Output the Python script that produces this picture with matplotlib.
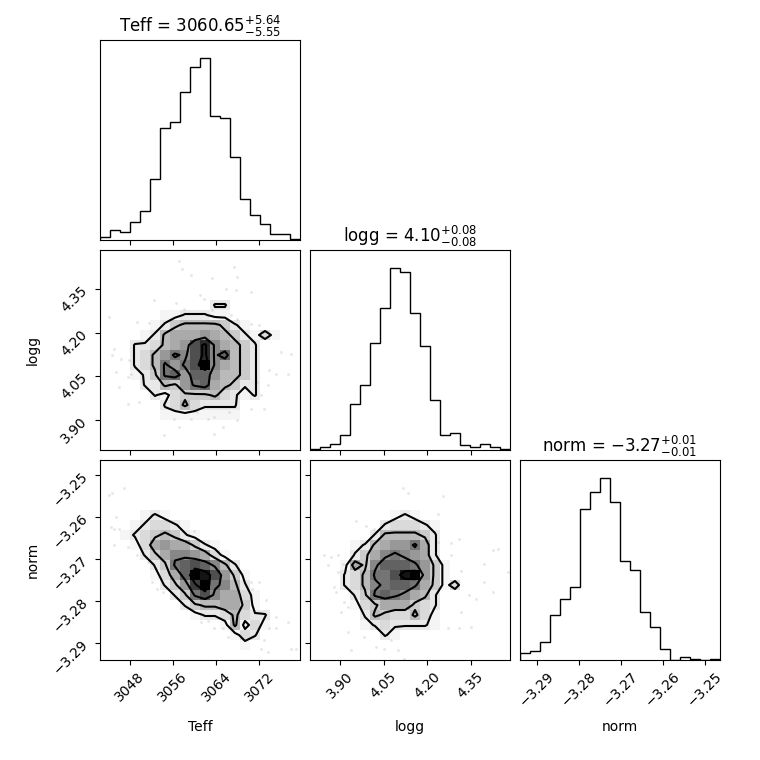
import numpy as np
import matplotlib
matplotlib.use("Agg")
import matplotlib.pyplot as plt
from matplotlib.colors import LinearSegmentedColormap, PowerNorm

labels = ["Teff", "logg", "norm"]
ranges = [(3042.5, 3079.5), (3.797, 4.485), (-3.2940, -3.2464)]
medians = ["3060.65", "4.10", "-3.27"]
err_lo = ["5.55", "0.08", "0.01"]
err_hi = ["5.64", "0.08", "0.01"]
ticks = [[3048, 3056, 3064, 3072],
         [3.90, 4.05, 4.20, 4.35],
         [-3.29, -3.28, -3.27, -3.26, -3.25]]

# 1d histograms, 20 bins each
hist_teff = [8, 30, 25, 53, 87, 183, 335, 351, 441, 516,
             543, 369, 363, 249, 123, 75, 48, 18, 18, 4]
hist_logg = [2, 10, 17, 44, 137, 194, 320, 425, 545, 533,
             410, 311, 149, 44, 51, 16, 9, 17, 10, 2]
hist_norm = [22, 28, 55, 135, 182, 218, 452, 504, 545, 474,
             297, 269, 145, 100, 34, 0, 8, 3, 0, 4]

# 2d histograms, 20x20, hex digit per bin (f = densest), top row first
dens_teff_logg = [
    "00000000000000000000",
    "00000000000000000000",
    "00000000000000000000",
    "00000000000000000000",
    "00000000000000000000",
    "00000000000220000000",
    "00000011222110000000",
    "00000124555542100000",
    "00001256667654213100",
    "000223567bd865420000",
    "000235798bd8a5420000",
    "000235979bf865420000",
    "0001249a7aa755420000",
    "0000225479a654220000",
    "00000213444532120000",
    "00000023532222000000",
    "00000011111111000000",
    "00000000000000000000",
    "00000000000000000000",
    "00000000000000000000",
]
dens_teff_norm = [
    "00000000000000000000",
    "00000000000000000000",
    "00000000000000000000",
    "00000000000000000000",
    "00000000000000000000",
    "00001210000000000000",
    "00012332100000000000",
    "00123454210000000000",
    "00013676642100000000",
    "00002468876310000000",
    "00000249aba852000000",
    "00000136afeb74100000",
    "000000247cf985200000",
    "0000000249b866310000",
    "00000000245566410000",
    "00000000012235322000",
    "00000000000015131000",
    "00000000000001320000",
    "00000000000000100000",
    "00000000000000000000",
]
dens_logg_norm = [
    "00000000000000000000",
    "00000000000000000000",
    "00000000000000000000",
    "00000000000000000000",
    "00000000000000000000",
    "00000000121000000000",
    "00000002333210000000",
    "00000025555420000000",
    "00001256779620000000",
    "00002468987620000000",
    "0001648aaa9741000000",
    "00023599bef741000000",
    "00023589aa9641300000",
    "0000249a986520000000",
    "00001346664320000000",
    "00000254335310000000",
    "00000123222210000000",
    "00000002100000000000",
    "00000000000000000000",
    "00000000000000000000",
]

# scattered samples outside the contours
pts_teff_a = [3057.1, 3057.6, 3059.3, 3063.3, 3067.3, 3067.9, 3065.8, 3067.6, 3070.4,
              3061.0, 3061.8, 3052.5, 3056.5, 3058.1, 3063.3, 3066.7, 3067.9, 3044.2,
              3049.4, 3051.6, 3070.4, 3072.0, 3076.0, 3077.8, 3045.1, 3044.8, 3046.4,
              3047.9, 3045.4, 3047.6, 3048.2, 3046.0, 3050.4, 3073.8, 3075.0, 3077.2,
              3073.5, 3071.6, 3072.3, 3072.9, 3070.4, 3047.6, 3049.7, 3054.4, 3057.1,
              3056.2, 3059.3, 3060.5, 3062.4, 3063.6, 3065.2, 3066.4, 3067.9, 3063.6]
pts_logg_a = [4.446, 4.421, 4.398, 4.387, 4.427, 4.392, 4.352, 4.346, 4.341,
              4.329, 4.318, 4.312, 4.301, 4.283, 4.278, 4.260, 4.249, 4.255,
              4.237, 4.235, 4.232, 4.226, 4.134, 4.128, 4.146, 4.123, 4.111,
              4.106, 4.065, 4.048, 4.060, 4.014, 4.042, 4.071, 4.060, 4.060,
              4.020, 4.031, 3.985, 3.939, 3.939, 3.956, 3.962, 3.847, 3.876,
              3.905, 3.905, 3.928, 3.905, 3.911, 3.876, 3.928, 3.899, 3.853]

pts_teff_b = [3044.2, 3044.8, 3047.0, 3045.4, 3044.5, 3045.1, 3046.0, 3045.0, 3047.6,
              3049.4, 3051.3, 3052.2, 3053.1, 3054.1, 3055.3, 3059.9, 3070.4, 3072.0,
              3070.7, 3073.2, 3075.0, 3073.8, 3075.0, 3077.2, 3072.9, 3073.5, 3072.3,
              3077.8, 3078.7, 3061.2, 3062.4, 3063.6, 3065.2, 3066.1, 3061.8]
pts_norm_b = [-3.2548, -3.2542, -3.2530, -3.2600, -3.2624, -3.2628, -3.2629, -3.2666,
              -3.2671, -3.2691, -3.2707, -3.2754, -3.2770, -3.2778, -3.2762, -3.2632,
              -3.2754, -3.2754, -3.2770, -3.2798, -3.2838, -3.2865, -3.2865, -3.2850,
              -3.2893, -3.2921, -3.2913, -3.2913, -3.2913, -3.2850, -3.2846, -3.2865,
              -3.2865, -3.2885, -3.2834]

pts_logg_c = [4.116, 4.133, 4.254, 4.236, 3.955, 3.990, 4.018, 4.236, 4.282, 4.311,
              4.426, 4.443, 3.846, 3.869, 3.892, 3.858, 3.909, 3.892, 3.881, 3.886,
              3.915, 3.927, 3.904, 4.282, 4.317, 4.345, 4.368, 4.397, 4.426, 4.397,
              4.477, 4.317, 4.311, 4.271, 4.351, 3.927, 3.984, 4.024, 4.053, 4.076,
              4.099, 4.122, 3.938]
pts_norm_c = [-3.2530, -3.2542, -3.2550, -3.2592, -3.2608, -3.2620, -3.2628, -3.2658,
              -3.2661, -3.2653, -3.2679, -3.2675, -3.2691, -3.2695, -3.2691, -3.2715,
              -3.2711, -3.2731, -3.2766, -3.2778, -3.2802, -3.2814, -3.2826, -3.2691,
              -3.2727, -3.2786, -3.2794, -3.2754, -3.2778, -3.2711, -3.2731, -3.2826,
              -3.2865, -3.2865, -3.2861, -3.2873, -3.2885, -3.2909, -3.2913, -3.2893,
              -3.2917, -3.2937, -3.2917]

level_frac = [0.12, 0.30, 0.57, 0.83]

hists = [hist_teff, hist_logg, hist_norm]
pairs = {
    (1, 0): (dens_teff_logg, pts_teff_a, pts_logg_a),
    (2, 0): (dens_teff_norm, pts_teff_b, pts_norm_b),
    (2, 1): (dens_logg_norm, pts_logg_c, pts_norm_c),
}

# transparent white -> black, like corner's density map
density_cmap = LinearSegmentedColormap.from_list("density_cmap", [(1, 1, 1, 0), "k"])

fig, axes = plt.subplots(3, 3, figsize=(7.6, 7.6), dpi=100)
fig.subplots_adjust(left=1 / 7.6, bottom=1 / 7.6, right=7.2 / 7.6, top=7.2 / 7.6,
                    wspace=0.05, hspace=0.05)

K = 3
for i in range(K):
    # diagonal
    ax = axes[i, i]
    edges = np.linspace(ranges[i][0], ranges[i][1], 21)
    centers = 0.5 * (edges[1:] + edges[:-1])
    ax.hist(centers, bins=edges, weights=hists[i], histtype="step", color="k")
    ax.set_xlim(ranges[i])
    ax.set_ylim(0, 1.1 * max(hists[i]))
    ax.set_yticks([])
    ax.set_xticks(ticks[i])
    title = r"${0}_{{-{1}}}^{{+{2}}}$".format(medians[i], err_lo[i], err_hi[i])
    ax.set_title("{0} = {1}".format(labels[i], title))
    if i < K - 1:
        ax.set_xticklabels([])
    else:
        ax.tick_params(axis="x", labelrotation=45)
        ax.set_xlabel(labels[i])
        ax.xaxis.set_label_coords(0.5, -0.3)

    for j in range(K):
        if j > i:
            axes[i, j].set_frame_on(False)
            axes[i, j].set_xticks([])
            axes[i, j].set_yticks([])
        elif j < i:
            ax = axes[i, j]
            rows, px, py = pairs[(i, j)]
            H = np.array([[int(c, 16) for c in r] for r in rows[::-1]], dtype=float)
            xe = np.linspace(ranges[j][0], ranges[j][1], 21)
            ye = np.linspace(ranges[i][0], ranges[i][1], 21)
            xc = 0.5 * (xe[1:] + xe[:-1])
            yc = 0.5 * (ye[1:] + ye[:-1])
            V = np.array(level_frac) * H.max()

            ax.plot(px, py, "o", color="k", ms=2, alpha=0.1, mec="none", zorder=-1)
            ax.contourf(xc, yc, H, [V.min(), H.max()], colors="white", antialiased=False)
            ax.pcolormesh(xe, ye, H, cmap=density_cmap, shading="flat",
                          norm=PowerNorm(0.6, vmin=0, vmax=H.max()))
            ax.contour(xc, yc, H, V, colors="k")

            ax.set_xlim(ranges[j])
            ax.set_ylim(ranges[i])
            ax.set_xticks(ticks[j])
            ax.set_yticks(ticks[i])
            if i < K - 1:
                ax.set_xticklabels([])
            else:
                ax.tick_params(axis="x", labelrotation=45)
                ax.set_xlabel(labels[j])
                ax.xaxis.set_label_coords(0.5, -0.3)
            if j > 0:
                ax.set_yticklabels([])
            else:
                ax.tick_params(axis="y", labelrotation=45)
                ax.set_ylabel(labels[i])
                ax.yaxis.set_label_coords(-0.3, 0.5)

fig.savefig("out.png", dpi=100)
